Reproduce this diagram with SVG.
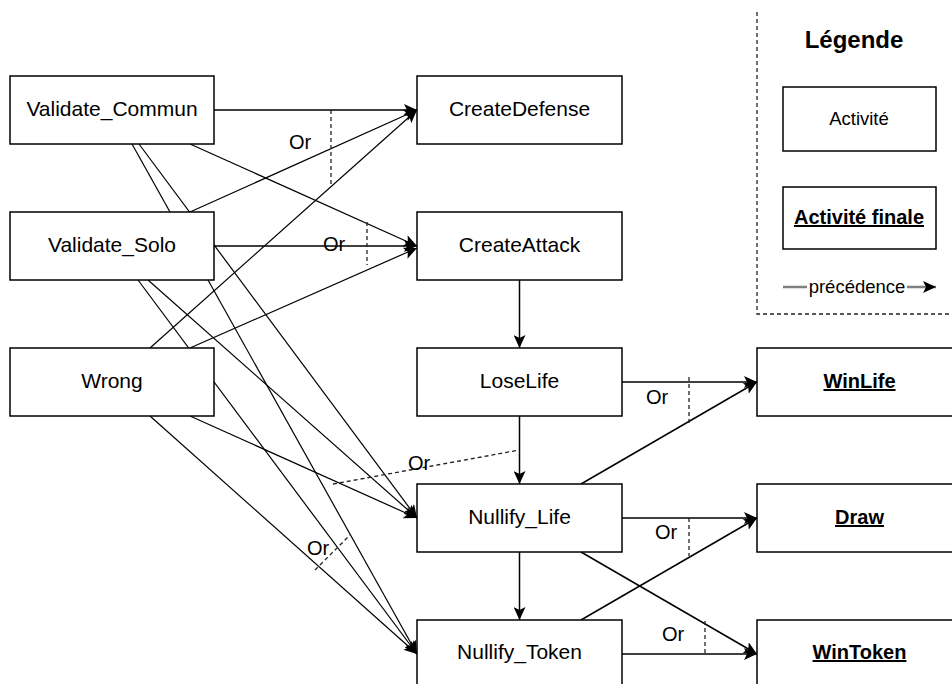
<svg xmlns="http://www.w3.org/2000/svg" width="952" height="684" viewBox="0 0 952 684">
<style>
.box{fill:#fff;stroke:#000;stroke-width:1.5}
.lbl{font-family:"Liberation Sans",Arial,sans-serif;font-size:21px;text-anchor:middle;fill:#000}
.fin{font-weight:bold;text-decoration:underline;font-size:20px}
.or{font-family:"Liberation Sans",Arial,sans-serif;font-size:20px;text-anchor:middle;fill:#000}
.edge{stroke:#000;stroke-width:1.5;fill:none;marker-end:url(#arr)}
.thin{stroke-width:1.2}
.dash{stroke:#222;stroke-width:1.3;stroke-dasharray:4 3;fill:none}
</style>
<defs>
<marker id="arr" markerUnits="userSpaceOnUse" markerWidth="14" markerHeight="12" refX="13" refY="6" orient="auto">
<path d="M0,0 L13,6 L0,12 L3,6 z" fill="#000"/>
</marker>
</defs>
<rect width="952" height="684" fill="#fff"/>

<g id="legend">
<path d="M757,12 V314 H952" class="dash"/>
<text x="854" y="48" style="font-family:'Liberation Sans',Arial,sans-serif;font-size:24px;font-weight:bold;text-anchor:middle">Légende</text>
<rect x="783" y="87" width="153" height="64" class="box"/>
<text x="859" y="125" class="lbl" style="font-size:18.5px">Activité</text>
<rect x="783" y="187" width="153" height="62" class="box"/>
<text x="859" y="224" class="lbl fin">Activité finale</text>
<line x1="783" y1="287" x2="936" y2="287" stroke="#808080" stroke-width="2.5" marker-end="url(#arr)"/>
<rect x="807" y="277" width="100" height="20" fill="#fff"/>
<text x="857" y="293" class="lbl" style="font-size:18.5px">précédence</text>
</g>

<g id="connectors">
<line x1="214" y1="110" x2="417" y2="110" class="edge"/>
<line x1="190" y1="212" x2="417" y2="110" class="edge thin"/>
<line x1="150" y1="348" x2="417" y2="110" class="edge thin"/>
<line x1="331" y1="110" x2="331" y2="187" class="dash"/>
<text x="300" y="149" class="or">Or</text>
<line x1="190" y1="144" x2="417" y2="246" class="edge thin"/>
<line x1="214" y1="246" x2="417" y2="246" class="edge"/>
<line x1="190" y1="348" x2="417" y2="248" class="edge thin"/>
<line x1="367" y1="222" x2="367" y2="265" class="dash"/>
<text x="334" y="251" class="or">Or</text>
<line x1="139" y1="144" x2="417" y2="518" class="edge thin"/>
<line x1="148" y1="280" x2="417" y2="518" class="edge thin"/>
<line x1="190" y1="416" x2="417" y2="518" class="edge thin"/>
<line x1="333" y1="484" x2="520" y2="450" class="dash"/>
<text x="419" y="470" class="or">Or</text>
<line x1="132" y1="144" x2="417" y2="654" class="edge thin"/>
<line x1="138" y1="280" x2="417" y2="654" class="edge thin"/>
<line x1="150" y1="416" x2="417" y2="654" class="edge thin"/>
<line x1="315" y1="570" x2="350" y2="535" class="dash"/>
<text x="318" y="555" class="or">Or</text>
<line x1="519.5" y1="280" x2="519.5" y2="348" class="edge"/>
<line x1="519.5" y1="416" x2="519.5" y2="484" class="edge"/>
<line x1="519.5" y1="552" x2="519.5" y2="620" class="edge"/>
<line x1="622" y1="382" x2="757" y2="382" class="edge"/>
<line x1="581" y1="484" x2="757" y2="382" class="edge"/>
<line x1="689" y1="377" x2="689" y2="424" class="dash"/>
<text x="657" y="404" class="or">Or</text>
<line x1="622" y1="518" x2="757" y2="518" class="edge"/>
<line x1="581" y1="620" x2="757" y2="518" class="edge"/>
<line x1="689" y1="518" x2="689" y2="556" class="dash"/>
<text x="666" y="539" class="or">Or</text>
<line x1="622" y1="654" x2="757" y2="654" class="edge"/>
<line x1="581" y1="552" x2="757" y2="654" class="edge"/>
<line x1="705" y1="621" x2="705" y2="654" class="dash"/>
<text x="673" y="641" class="or">Or</text>
</g>

<g id="validate_commun"><rect x="10" y="76" width="204" height="68" class="box"/><text x="112" y="116" class="lbl">Validate_Commun</text></g>
<g id="validate_solo"><rect x="10" y="212" width="204" height="68" class="box"/><text x="112" y="252" class="lbl">Validate_Solo</text></g>
<g id="wrong"><rect x="10" y="348" width="204" height="68" class="box"/><text x="112" y="388" class="lbl">Wrong</text></g>
<g id="createdefense"><rect x="417" y="76" width="205" height="68" class="box"/><text x="519.5" y="116" class="lbl">CreateDefense</text></g>
<g id="createattack"><rect x="417" y="212" width="205" height="68" class="box"/><text x="519.5" y="252" class="lbl">CreateAttack</text></g>
<g id="loselife"><rect x="417" y="348" width="205" height="68" class="box"/><text x="519.5" y="388" class="lbl">LoseLife</text></g>
<g id="nullify_life"><rect x="417" y="484" width="205" height="68" class="box"/><text x="519.5" y="524" class="lbl">Nullify_Life</text></g>
<g id="nullify_token"><rect x="417" y="620" width="205" height="68" class="box"/><text x="519.5" y="659" class="lbl">Nullify_Token</text></g>
<g id="winlife"><rect x="757" y="348" width="205" height="68" class="box"/><text x="859.5" y="388" class="lbl fin">WinLife</text></g>
<g id="draw"><rect x="757" y="484" width="205" height="68" class="box"/><text x="859.5" y="524" class="lbl fin">Draw</text></g>
<g id="wintoken"><rect x="757" y="620" width="205" height="68" class="box"/><text x="859.5" y="659" class="lbl fin">WinToken</text></g>
</svg>
